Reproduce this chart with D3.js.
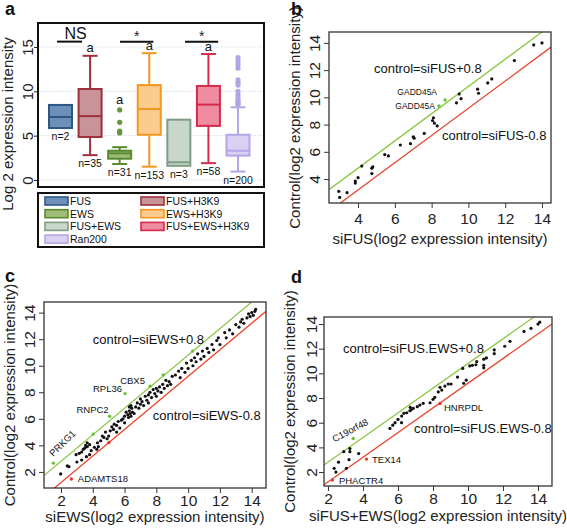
<!DOCTYPE html>
<html><head><meta charset="utf-8">
<script src="https://cdn.jsdelivr.net/npm/d3@7"></script>
<style>body{margin:0;background:#fff} svg text{font-family:"Liberation Sans",Arial,Helvetica,sans-serif}</style>
</head><body><svg id="c" width="567" height="529"></svg>
<script>
// ---------------- DATA ----------------
// Panel a: box plots
const groups   = ["FUS","FUS+H3K9","EWS","EWS+H3K9","FUS+EWS","FUS+EWS+H3K9","Ran200"];
const nCounts  = [2,35,31,153,3,58,200];
const q1       = [5.86,4.85,2.4,5.1,1.6,6.1,2.75];
const medians  = [7.1,7.2,3.0,8.0,2.0,8.5,3.3];
const q3       = [8.46,10.26,3.3,10.7,6.8,10.6,5.1];
const whiskLo  = [null,2.8,1.8,1.5,null,1.9,0.95];
const whiskHi  = [null,14.0,3.7,14.3,null,14.2,8.2];
const outliers = [[],[],[7.9,6.5,5.5,5.3],[],[],[],[13.8,13.4,13.0,12.6,11.3,11.0,10.7,10.0,9.6,9.3,9.0,8.8,8.6,8.5]];
const sigLetters = ["","a","a","a","","a",""];
const sigBars  = [{label:"NS",from:-0.12,to:0.73,y:15.6},{label:"*",from:2.01,to:3.14,y:15.6},{label:"*",from:4.21,to:5.33,y:15.6}];
const aTicks   = [0,5,10,15];

// Panel b: siFUS vs control
const fusPoints = [[2.95,3.1],[3.0,2.65],[3.4,3.0],[3.85,3.7],[3.85,3.85],[4.0,4.1],[4.2,4.95],[4.75,4.4],[4.75,4.8],[4.8,4.9],
  [5.45,5.8],[5.65,5.7],[6.3,6.5],[6.85,6.6],[7.0,7.1],[7.05,7.0],[7.6,7.35],[8.05,8.3],[8.1,8.5],[8.15,8.1],[8.3,7.9],
  [9.35,9.6],[9.6,9.9],[9.5,10.25],[10.5,10.6],[10.55,10.3],[11.05,11.06],[11.27,11.35],[12.5,12.7],[13.55,13.85],[14.0,14.0]];
const fusUp   = [{gene:"GADD45A",x:8.73,y:9.81},{gene:"GADD45A",x:8.4,y:9.36}];
const fusDown = [];

// Panel c: siEWS vs control
const ewsPoints = [[1.98,1.85],[2.4,2.45],[2.5,2.4],[3.0,2.75],[3.3,2.9],[3.6,3.15],[3.8,3.3],[2.95,3.3],[3.15,3.4],[3.4,3.7],
  [3.5,3.8],[3.65,3.9],[3.8,4.05],[3.65,4.2],[4.25,3.7],[4.35,3.9],[4.1,3.85],[4.3,4.2],[4.5,4.35],[3.9,3.6],[3.3,3.5],[3.55,4.0],[4.6,4.7],
  [4.7,4.6],[4.8,5.0],[4.9,4.5],[5.0,4.7],[5.1,5.1],[5.2,5.4],[5.3,5.2],[5.35,5.6],[5.5,5.0],[5.5,5.5],[5.6,5.8],[5.7,5.3],[5.8,5.9],
  [5.9,6.0],[6.0,6.2],[6.0,5.7],[6.1,6.5],[6.2,6.3],[6.25,6.1],[6.3,6.6],[6.35,6.4],[6.4,6.2],[6.45,6.8],[6.5,6.5],[6.3,6.9],[6.6,6.4],[6.4,7.0],
  [6.7,6.9],[6.8,7.2],[6.9,6.8],[7.0,7.1],[7.0,7.5],[7.1,7.3],[7.2,7.0],[7.3,7.7],[7.4,7.4],[7.5,7.8],[7.5,7.2],[7.6,8.0],[7.7,7.6],
  [7.8,8.2],[7.9,7.9],[8.0,8.3],[8.0,7.7],[8.1,8.1],[8.2,8.4],[8.3,8.0],[8.4,8.6],[8.5,8.3],[8.6,8.9],[8.7,8.5],[8.8,8.8],[9.0,9.2],[8.9,8.6],
  [9.2,9.3],[9.4,9.6],[9.5,9.1],[9.6,9.8],[9.8,9.5],[9.9,10.2],[10.0,9.8],[10.2,10.4],[10.3,10.0],[10.4,10.6],[10.5,10.3],[10.6,10.9],
  [10.8,10.5],[10.9,11.1],[11.0,10.7],[11.2,11.3],[11.3,11.0],[11.5,11.6],[11.6,11.2],[11.8,11.9],[12.0,11.6],[11.9,12.1],
  [12.3,12.5],[12.4,12.1],[12.6,12.7],[12.8,12.4],[13.0,13.1],[13.2,12.9],[13.4,13.5],[13.5,13.2],[13.7,13.6],[13.8,13.9],[14.0,14.0],
  [14.1,13.8],[14.2,14.1],[13.9,13.7],[14.25,14.25],[13.3,13.3]];
const ewsUp   = [{gene:"PRKG1",x:1.52,y:2.66},{gene:"RNPC2",x:5.06,y:6.19},{gene:"RPL36",x:6.03,y:7.9},{gene:"CBX5",x:7.6,y:8.46},
  {gene:"",x:4.03,y:4.85},{gene:"",x:8.43,y:9.3},{gene:"",x:10.28,y:11.1}];
const ewsDown = [{gene:"ADAMTS18",x:2.65,y:1.47},{gene:"",x:5.02,y:4.22}];

// Panel d: siFUS+EWS vs control
const fusEwsPoints = [[14.1,14.15],[14.0,14.0],[13.6,13.65],[13.2,13.4],[12.4,12.6],[12.1,12.2],[11.5,11.9],[11.5,11.6],[11.05,11.25],
  [10.9,11.15],[10.5,10.95],[10.9,10.65],[10.9,10.45],[10.45,10.7],[10.25,10.65],[10.1,10.6],[9.7,10.4],[9.4,9.7],[9.9,9.45],[9.75,9.2],
  [9.03,9.14],[8.87,9.14],[8.68,8.97],[8.4,8.87],[8.5,8.65],[8.3,8.5],[8.1,8.06],[8.0,7.9],[7.83,7.62],[7.44,7.57],[7.25,7.43],[7.1,7.3],
  [6.87,7.17],[6.68,6.97],[6.5,6.81],[6.34,6.76],[6.21,6.54],[6.7,7.25],[6.75,7.05],[6.0,6.27],[6.2,6.0],[5.83,6.0],[5.7,5.8],[5.54,5.54],
  [2.9,3.65],[3.25,3.9],[3.25,3.65],[3.2,3.0],[3.75,3.5],[2.6,2.8],[3.05,2.3],[2.35,2.3],[2.45,2.0]];
const fusEwsUp   = [{gene:"C19orf48",x:3.44,y:4.73}];
const fusEwsDown = [{gene:"HNRPDL",x:8.4,y:7.56},{gene:"TEX14",x:4.2,y:3.05},{gene:"PHACTR4",x:2.25,y:1.35}];

const scatterTicks = [2,4,6,8,10,12,14];
const cutoff = 0.8;

// ---------------- DRAW ----------------
const svg = d3.select("#c");
svg.append("rect").attr("width",567).attr("height",529).attr("fill","#fff");

const fillC = {"FUS":"#6e90b8","FUS+H3K9":"#c99499","EWS":"#9fbc78","EWS+H3K9":"#fccb8e","FUS+EWS":"#c8d7c9","FUS+EWS+H3K9":"#ef8ba1","Ran200":"#dad0f2"};
const strokeC = {"FUS":"#2c5886","FUS+H3K9":"#9e2f3d","EWS":"#5a8a2f","EWS+H3K9":"#f29820","FUS+EWS":"#7f9c87","FUS+EWS+H3K9":"#d62a4b","Ran200":"#b4a5e6"};

// ---- Panel a
const A = {l:38,r:264,t:23,b:187};
const ay = d3.scaleLinear().domain([-0.79,17.7]).range([A.b,A.t]);
const ax = d3.scalePoint().domain(groups).range([60.5,238]);
const axi = d3.scaleLinear().domain([0,groups.length-1]).range([60.5,238]);
const gA = svg.append("g");
gA.selectAll("line.grid").data(aTicks).join("line")
  .attr("x1",A.l).attr("x2",A.r).attr("y1",d=>ay(d)).attr("y2",d=>ay(d))
  .attr("stroke","#d9e6f0").attr("stroke-width",1).attr("stroke-dasharray","2,1");
const yAxA = gA.append("g").attr("transform",`translate(${A.l},0)`)
  .call(d3.axisLeft(ay).tickValues(aTicks).tickSize(4).tickFormat(d3.format("d")));
yAxA.select(".domain").remove();
yAxA.selectAll(".tick line").attr("stroke","#222");
yAxA.selectAll(".tick text").attr("transform","rotate(-90)").attr("x",0).attr("y",-5).attr("dy",0)
  .attr("text-anchor","middle").attr("font-size",15).attr("fill","#222");
gA.append("text").attr("transform",`translate(13,124) rotate(-90)`).attr("text-anchor","middle")
  .attr("font-size",15).attr("fill","#222").text("Log 2 expression intensity");

const BW = 23, CAP = 15;
groups.forEach((g,i)=>{
  const cx = ax(g), gg = gA.append("g");
  const col = strokeC[g];
  if (whiskHi[i]!=null){
    gg.append("line").attr("x1",cx).attr("x2",cx).attr("y1",ay(q3[i])).attr("y2",ay(whiskHi[i])).attr("stroke",col).attr("stroke-width",2);
    gg.append("line").attr("x1",cx-CAP/2).attr("x2",cx+CAP/2).attr("y1",ay(whiskHi[i])).attr("y2",ay(whiskHi[i])).attr("stroke",col).attr("stroke-width",2);
  }
  if (whiskLo[i]!=null){
    gg.append("line").attr("x1",cx).attr("x2",cx).attr("y1",ay(q1[i])).attr("y2",ay(whiskLo[i])).attr("stroke",col).attr("stroke-width",2);
    gg.append("line").attr("x1",cx-CAP/2).attr("x2",cx+CAP/2).attr("y1",ay(whiskLo[i])).attr("y2",ay(whiskLo[i])).attr("stroke",col).attr("stroke-width",2);
  }
  gg.append("rect").attr("x",cx-BW/2).attr("width",BW).attr("y",ay(q3[i])).attr("height",ay(q1[i])-ay(q3[i]))
    .attr("fill",fillC[g]).attr("stroke",col).attr("stroke-width",2);
  gg.append("line").attr("x1",cx-BW/2).attr("x2",cx+BW/2).attr("y1",ay(medians[i])).attr("y2",ay(medians[i])).attr("stroke",col).attr("stroke-width",2);
  gg.selectAll("circle").data(outliers[i]).join("circle").attr("cx",cx).attr("cy",d=>ay(d)).attr("r",2.6)
    .attr("fill",g==="EWS"?"#6a9438":"#b3a4e4");
  const low = Math.min(q1[i], whiskLo[i]==null?Infinity:whiskLo[i]);
  gg.append("text").attr("x",cx).attr("y",ay(low)+12).attr("text-anchor","middle").attr("font-size",10.5).attr("fill","#111").text("n="+nCounts[i]);
  if (sigLetters[i]){
    const top = Math.max(q3[i], whiskHi[i]==null?-Infinity:whiskHi[i], ...(outliers[i].length?outliers[i]:[-Infinity]));
    gg.append("text").attr("x",cx).attr("y",ay(top)-(outliers[i].length?6:3.5)).attr("text-anchor","middle")
      .attr("font-size",13).attr("fill","#111").text(sigLetters[i]);
  }
});
sigBars.forEach(s=>{
  gA.append("line").attr("x1",axi(s.from)).attr("x2",axi(s.to)).attr("y1",ay(s.y)).attr("y2",ay(s.y)).attr("stroke","#111").attr("stroke-width",2);
  const mid=(axi(s.from)+axi(s.to))/2;
  if (s.label==="NS") gA.append("text").attr("x",mid+6).attr("y",ay(s.y)-3).attr("text-anchor","middle").attr("font-size",16).attr("fill","#111").text(s.label);
  else gA.append("text").attr("x",mid).attr("y",ay(s.y)-1).attr("text-anchor","middle").attr("font-size",14).attr("fill","#222").text(s.label);
});
gA.append("rect").attr("x",A.l).attr("y",A.t).attr("width",A.r-A.l).attr("height",A.b-A.t).attr("fill","none").attr("stroke","#111").attr("stroke-width",2);

// legend
const L = {l:38,r:264,t:193,b:247};
gA.append("rect").attr("x",L.l).attr("y",L.t).attr("width",L.r-L.l).attr("height",L.b-L.t).attr("fill","none").attr("stroke","#111").attr("stroke-width",2);
const col1 = groups.filter(g=>!g.includes("H3K9")), col2 = groups.filter(g=>g.includes("H3K9"));
[[col1,45],[col2,141]].forEach(([items,x0])=>{
  items.forEach((g,j)=>{
    const yc = 201+j*12.7;
    gA.append("rect").attr("x",x0).attr("y",yc-4).attr("width",23).attr("height",8).attr("fill",fillC[g]).attr("stroke",strokeC[g]).attr("stroke-width",1.6);
    gA.append("text").attr("x",x0+25).attr("y",yc+4).attr("font-size",10.5).attr("fill","#111").text(g);
  });
});

// ---- scatter panels
function scatter(c){
  const g = svg.append("g");
  const x = d3.scaleLinear().domain(c.xd).range([c.l,c.r]);
  const y = d3.scaleLinear().domain(c.yd).range([c.b,c.t]);
  const id = "clip"+c.name;
  svg.append("clipPath").attr("id",id).append("rect").attr("x",c.l).attr("y",c.t).attr("width",c.r-c.l).attr("height",c.b-c.t);
  const lines = g.append("g").attr("clip-path",`url(#${id})`);
  [[cutoff,"#8cc84a"],[-cutoff,"#e8462f"]].forEach(([off,col])=>{
    lines.append("line").attr("x1",x(c.xd[0])).attr("y1",y(c.xd[0]+off)).attr("x2",x(c.xd[1])).attr("y2",y(c.xd[1]+off))
      .attr("stroke",col).attr("stroke-width",1.3);
  });
  g.selectAll("circle.p").data(c.pts).join("circle").attr("cx",d=>x(d[0])).attr("cy",d=>y(d[1])).attr("r",1.6).attr("fill","#111");
  g.selectAll("circle.u").data(c.up).join("circle").attr("cx",d=>x(d.x)).attr("cy",d=>y(d.y)).attr("r",1.7).attr("fill","#6fbe3a");
  g.selectAll("circle.dn").data(c.down).join("circle").attr("cx",d=>x(d.x)).attr("cy",d=>y(d.y)).attr("r",1.7).attr("fill","#e0392b");
  // gene labels
  [...c.up,...c.down].forEach((d,i)=>{
    if(!d.gene) return;
    const lay = c.lab[d.gene+(c.dupIdx&&d.gene==="GADD45A"?(c.up.indexOf(d)):"")] || c.lab[d.gene];
    const px=x(d.x), py=y(d.y);
    const t = g.append("text").attr("font-size",lay.fs||9.5).attr("fill","#111").attr("text-anchor",lay.anchor||"start").text(d.gene);
    if (lay.rot!=null) t.attr("transform",`translate(${px+lay.dx},${py+lay.dy}) rotate(${lay.rot})`).attr("dy","0.35em");
    else t.attr("x",px+lay.dx).attr("y",py+lay.dy);
  });
  // annotations
  c.notes.forEach(n=>g.append("text").attr("x",n.x).attr("y",n.y).attr("font-size",13).attr("fill","#111").text(n.text));
  // axes
  const xa = g.append("g").attr("transform",`translate(0,${c.b})`).call(d3.axisBottom(x).tickValues(c.xt).tickSize(5).tickSizeOuter(0));
  xa.select(".domain").remove();
  xa.selectAll(".tick line").attr("stroke","#333");
  xa.selectAll(".tick text").attr("font-size",15.5).attr("fill","#222").attr("y",c.xtOff).attr("dy",0);
  const ya = g.append("g").attr("transform",`translate(${c.l},0)`).call(d3.axisLeft(y).tickValues(c.yt).tickSize(5).tickSizeOuter(0));
  ya.select(".domain").remove();
  ya.selectAll(".tick line").attr("stroke","#333");
  ya.selectAll(".tick text").attr("transform","rotate(-90)").attr("x",0).attr("y",-c.ytOff).attr("dy",0)
    .attr("text-anchor","middle").attr("font-size",15.5).attr("fill","#222");
  g.append("rect").attr("x",c.l).attr("y",c.t).attr("width",c.r-c.l).attr("height",c.b-c.t).attr("fill","none").attr("stroke","#333").attr("stroke-width",1.3);
  g.append("text").attr("x",(c.l+c.r)/2).attr("y",c.xTitleY).attr("text-anchor","middle").attr("font-size",15).attr("fill","#222").text(c.xTitle);
  g.append("text").attr("transform",`translate(${c.yTitleX},${(c.t+c.b)/2}) rotate(-90)`).attr("text-anchor","middle").attr("font-size",15).attr("fill","#222").text(c.yTitle);
}

scatter({name:"b",l:329,r:551,t:32,b:203,xd:[2.42,14.49],yd:[2.24,14.8],xt:scatterTicks.slice(1),yt:scatterTicks.slice(1),
  pts:fusPoints,up:fusUp,down:fusDown,dupIdx:true,
  lab:{"GADD45A0":{dx:-8,dy:-5,anchor:"end",fs:8.5},"GADD45A1":{dx:-4,dy:3,anchor:"end",fs:8.5}},
  notes:[{x:374,y:72.5,text:"control=siFUS+0.8"},{x:442,y:139.5,text:"control=siFUS-0.8"}],
  xtOff:21,ytOff:9,xTitleY:244,yTitleX:300,xTitle:"siFUS(log2 expression intensity)",yTitle:"Control(log2 expression intensity)"});

scatter({name:"c",l:44,r:266,t:302,b:488,xd:[0.93,14.9],yd:[0.79,14.8],xt:scatterTicks,yt:scatterTicks,
  pts:ewsPoints,up:ewsUp,down:ewsDown,
  lab:{"PRKG1":{dx:9,dy:-20,rot:-45,anchor:"middle",fs:9.5},"RNPC2":{dx:-1,dy:-3,anchor:"end",fs:9.5},
       "RPL36":{dx:-3,dy:-1.5,anchor:"end",fs:9.5},"CBX5":{dx:-5,dy:-1.7,anchor:"end",fs:9.5},"ADAMTS18":{dx:6.5,dy:3.3,fs:9.5}},
  notes:[{x:92.7,y:343.5,text:"control=siEWS+0.8"},{x:152.7,y:419.5,text:"control=siEWS-0.8"}],
  xtOff:18,ytOff:9,xTitleY:522,yTitleX:15,xTitle:"siEWS(log2 expression intensity)",yTitle:"Control(log2 expression intensity)"});

scatter({name:"d",l:324,r:552,t:317,b:486,xd:[1.77,14.8],yd:[0.87,14.57],xt:scatterTicks,yt:scatterTicks,
  pts:fusEwsPoints,up:fusEwsUp,down:fusEwsDown,
  lab:{"C19orf48":{dx:-3,dy:-8,rot:-28,anchor:"middle",fs:9.5},"HNRPDL":{dx:4,dy:7.5,fs:9.5},
       "TEX14":{dx:5.5,dy:3.5,fs:9.5},"PHACTR4":{dx:6.5,dy:3.5,fs:9.5}},
  notes:[{x:343,y:352.5,text:"control=siFUS.EWS+0.8"},{x:414,y:432.5,text:"control=siFUS.EWS-0.8"}],
  xtOff:18,ytOff:7,xTitleY:521,yTitleX:295,xTitle:"siFUS+EWS(log2 expression intensity)",yTitle:"Control(log2 expression intensity)"});

// panel letters
[["a",5,15],["b",291,15],["c",5,282],["d",291,283]].forEach(([t,x,y])=>
  svg.append("text").attr("x",x).attr("y",y).attr("font-size",18).attr("font-weight","bold").attr("fill","#111").text(t));
</script></body></html>
